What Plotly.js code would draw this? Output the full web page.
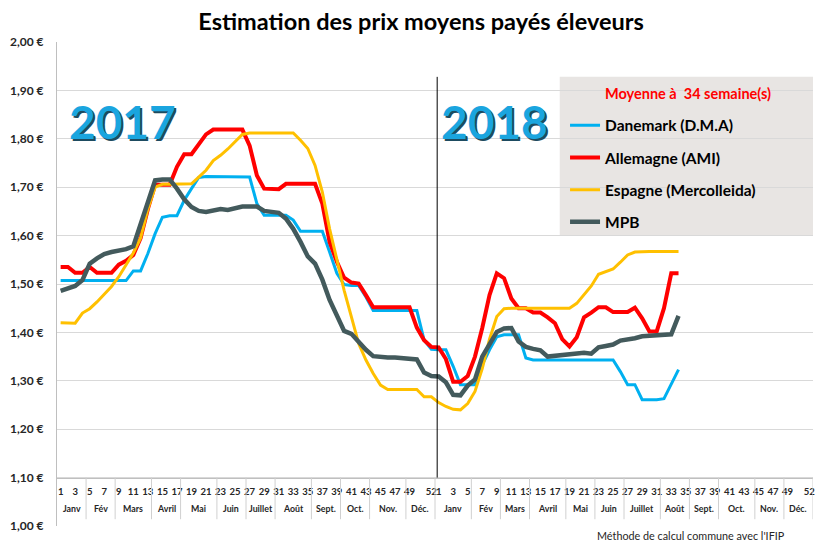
<!DOCTYPE html>
<html><head><meta charset="utf-8">
<script src="https://cdn.plot.ly/plotly-3.0.1.min.js"></script>
<style>html,body{margin:0;padding:0;background:#fff}#chart{width:824px;height:541px}</style>
</head><body><div id="chart"></div>
<script>
// ---- Data (weekly prices, €/kg) ----
const seriesNames = ['Danemark (D.M.A)', 'Allemagne (AMI)', 'Espagne (Mercolleida)', 'MPB'];

const danemark2017 = [1.507,1.507,1.507,1.507,1.507,1.507,1.507,1.507,1.507,1.507,
  1.527,1.527,1.563,1.604,1.638,1.641,1.641,1.673,1.697,1.72,
  1.722,1.722,1.722,1.722,1.722,1.721,1.721,1.666,1.642,1.642,
  1.642,1.642,1.632,1.609,1.609,1.609,1.609,1.566,1.522,1.499,
  1.497,1.497,1.473,1.445,1.445,1.445,1.445,1.445,1.445,1.445,
  1.384,1.365];
const danemark2018 = [1.364,1.364,1.33,1.292,1.292,1.292,1.333,1.364,1.391,1.395,
  1.395,1.395,1.347,1.343,1.343,1.343,1.343,1.343,1.343,1.343,
  1.343,1.343,1.343,1.343,1.343,1.319,1.292,1.292,1.261,1.261,
  1.261,1.263,1.293,1.323];

const allemagne2017 = [1.535,1.535,1.523,1.523,1.535,1.523,1.523,1.523,1.54,1.548,
  1.56,1.595,1.655,1.705,1.705,1.705,1.742,1.768,1.768,1.79,
  1.809,1.819,1.819,1.819,1.819,1.819,1.786,1.724,1.697,1.696,
  1.696,1.707,1.707,1.707,1.707,1.707,1.666,1.587,1.546,1.513,
  1.503,1.501,1.477,1.452,1.452,1.452,1.452,1.452,1.452,1.41,
  1.384,1.37];
const allemagne2018 = [1.369,1.345,1.298,1.298,1.31,1.35,1.409,1.477,1.522,1.512,
  1.47,1.45,1.45,1.441,1.441,1.431,1.419,1.386,1.371,1.39,
  1.431,1.441,1.452,1.452,1.442,1.442,1.442,1.451,1.429,1.402,
  1.402,1.45,1.522,1.522];

const espagne2017 = [1.42,1.42,1.419,1.44,1.449,1.463,1.478,1.495,1.515,1.54,
  1.564,1.595,1.655,1.70,1.706,1.706,1.706,1.706,1.707,1.721,
  1.735,1.755,1.766,1.779,1.795,1.809,1.812,1.812,1.812,1.812,
  1.812,1.812,1.812,1.797,1.78,1.745,1.69,1.614,1.549,1.487,
  1.432,1.377,1.343,1.315,1.291,1.282,1.282,1.282,1.282,1.282,
  1.267,1.267];
const espagne2018 = [1.255,1.247,1.241,1.24,1.253,1.278,1.325,1.386,1.433,1.449,
  1.45,1.45,1.45,1.45,1.45,1.45,1.45,1.45,1.45,1.46,
  1.479,1.496,1.52,1.525,1.531,1.545,1.56,1.566,1.567,1.567,
  1.567,1.567,1.567,1.567];

const mpb2017 = [1.486,1.491,1.496,1.508,1.542,1.553,1.562,1.566,1.568,1.572,
  1.578,1.625,1.673,1.714,1.716,1.716,1.697,1.675,1.659,1.651,
  1.649,1.652,1.655,1.653,1.657,1.66,1.66,1.66,1.651,1.649,
  1.647,1.635,1.614,1.587,1.557,1.542,1.509,1.467,1.436,1.403,
  1.397,1.379,1.364,1.351,1.349,1.348,1.348,1.347,1.346,1.344,
  1.317,1.31];
const mpb2018 = [1.309,1.297,1.271,1.27,1.29,1.303,1.35,1.375,1.401,1.408,
  1.409,1.381,1.37,1.366,1.363,1.35,1.352,1.354,1.356,1.358,
  1.358,1.356,1.369,1.372,1.375,1.383,1.385,1.388,1.392,1.393,
  1.393,1.393,1.396,1.434];

// ---- Axis labels ----
const weeksPerYear = 52;
const tickWeeks = [1,3,5,7,9,11,13,15,17,19,21,23,25,27,29,31,33,35,37,39,41,43,45,47,49,52];
const monthNames = ['Janv','Fév','Mars','Avril','Mai','Juin','Juillet','Août','Sept.','Oct.','Nov.','Déc.'];
const monthWeeks2017 = [4,4,5,4,5,4,4,5,4,4,5,4];
const monthWeeks2018 = [5,4,4,5,4,4,5,4,4,5,4,4];
const yTickVals = [1.0,1.1,1.2,1.3,1.4,1.5,1.6,1.7,1.8,1.9,2.0];
const yTickText = ['1,00 €','1,10 €','1,20 €','1,30 €','1,40 €','1,50 €','1,60 €','1,70 €','1,80 €','1,90 €','2,00 €'];
const yearLabels = ['2017','2018'];

// ---- Build ----
const FONT = 'Lato, "Open Sans", "DejaVu Sans", sans-serif';
const colors = ['#00b0f0','#ff0000','#ffc000','#435a5c'];
const widths = [3, 4, 3, 4.5];
const data17 = [danemark2017, allemagne2017, espagne2017, mpb2017];
const data18 = [danemark2018, allemagne2018, espagne2018, mpb2018];

const traces = seriesNames.map((name, k) => {
  const y = data17[k].concat(data18[k]);
  const x = y.map((_, i) => i);
  return {
    type: 'scatter', mode: 'lines', name, x, y,
    line: {color: colors[k], width: widths[k]},
    legendgroup: 'g' + k, hoverinfo: 'skip'
  };
});

const tickvals = [], ticktext = [];
[0, weeksPerYear].forEach(off => tickWeeks.forEach(w => { tickvals.push(off + w - 1); ticktext.push(String(w)); }));

const shapes = [];
const annotations = [];
// month groups
[[0, monthWeeks2017], [weeksPerYear, monthWeeks2018]].forEach(([off, mw]) => {
  let start = off - 0.5;
  mw.forEach((n, m) => {
    const end = start + n;
    annotations.push({x: (start + end) / 2, y: 1.036, xref: 'x', yref: 'y', xanchor: 'center', yanchor: 'middle',
      text: monthNames[m], showarrow: false, font: {family: FONT, size: 8.8, color: '#262626', weight: 'bold'}});
    shapes.push({type: 'line', xref: 'x', yref: 'y', x0: end, x1: end, y0: 1.10, y1: 1.014,
      line: {color: '#d0d0d0', width: 1}, layer: 'above'});
    start = end;
  });
});
// year separator line
shapes.push({type: 'line', xref: 'x', yref: 'y', x0: 51.8, x1: 51.8, y0: 1.10, y1: 1.928,
  line: {color: '#000000', width: 1}, layer: 'above'});
// legend background box
shapes.push({type: 'rect', xref: 'paper', yref: 'paper', x0: 0.665, x1: 1.0, y0: 0.599, y1: 0.928,
  fillcolor: '#e8e5e3', line: {width: 0}, layer: 'between'});

// Year labels with shadow
const yearPos = [[0.0873, 0.836], [0.579, 0.836]];
yearLabels.forEach((t, k) => {
  annotations.push({x: yearPos[k][0], y: yearPos[k][1], xref: 'paper', yref: 'paper', xanchor: 'center', yanchor: 'middle',
    text: t, showarrow: false,
    font: {family: FONT, size: 46, color: '#1aa5df', weight: 'bold', shadow: '2px 2px 0px #1d4b60'}});
});
// legend heading
annotations.push({x: 0.834, y: 0.894, xref: 'paper', yref: 'paper', xanchor: 'center', yanchor: 'middle',
  text: 'Moyenne à\u00a0 34 semaine(s)', showarrow: false,
  font: {family: FONT, size: 14.5, color: '#ff0000', weight: 'bold'}});
// footer
annotations.push({x: 0.8386, y: -0.0186, xref: 'paper', yref: 'paper', xanchor: 'center', yanchor: 'middle',
  text: "Méthode de calcul commune avec l'IFIP",
  showarrow: false, font: {family: FONT, size: 10.8, color: '#262626'}});

const layout = {
  width: 824, height: 541,
  margin: {l: 57, r: 11, t: 42, b: 15},
  paper_bgcolor: '#ffffff', plot_bgcolor: '#ffffff',
  font: {family: FONT, color: '#262626'},
  title: {text: 'Estimation des prix moyens payés éleveurs', x: 0.511, xanchor: 'center', xref: 'container',
    y: 0.959, yanchor: 'middle', yref: 'container', font: {family: FONT, size: 23.5, color: '#000000', weight: 'bold'}},
  xaxis: {range: [-0.5, 103.5], anchor: 'free', position: 0.1, showline: true, linecolor: '#bfbfbf', linewidth: 1,
    showgrid: false, zeroline: false, tickmode: 'array', tickvals, ticktext, ticks: '', tickangle: 0,
    tickfont: {family: FONT, size: 9.5, color: '#262626', weight: 'bold'}, ticklabelstandoff: 5, fixedrange: true},
  yaxis: {range: [1, 2], tickmode: 'array', tickvals: yTickVals, ticktext: yTickText, showgrid: true,
    gridcolor: '#d9d9d9', gridwidth: 1, showline: true, linecolor: '#bfbfbf', zeroline: false, ticks: '',
    tickfont: {family: FONT, size: 12, color: '#262626', weight: 'bold'}, ticklabelstandoff: 10, fixedrange: true},
  showlegend: true,
  legend: {x: 0.672, xanchor: 'left', y: 0.862, yanchor: 'top', bgcolor: 'rgba(0,0,0,0)',
    font: {family: FONT, size: 15.5, color: '#000000', weight: 'bold'},
    traceorder: 'grouped', tracegroupgap: 9},
  shapes, annotations
};

Plotly.newPlot('chart', traces, layout, {staticPlot: true, displayModeBar: false});
</script></body></html>
